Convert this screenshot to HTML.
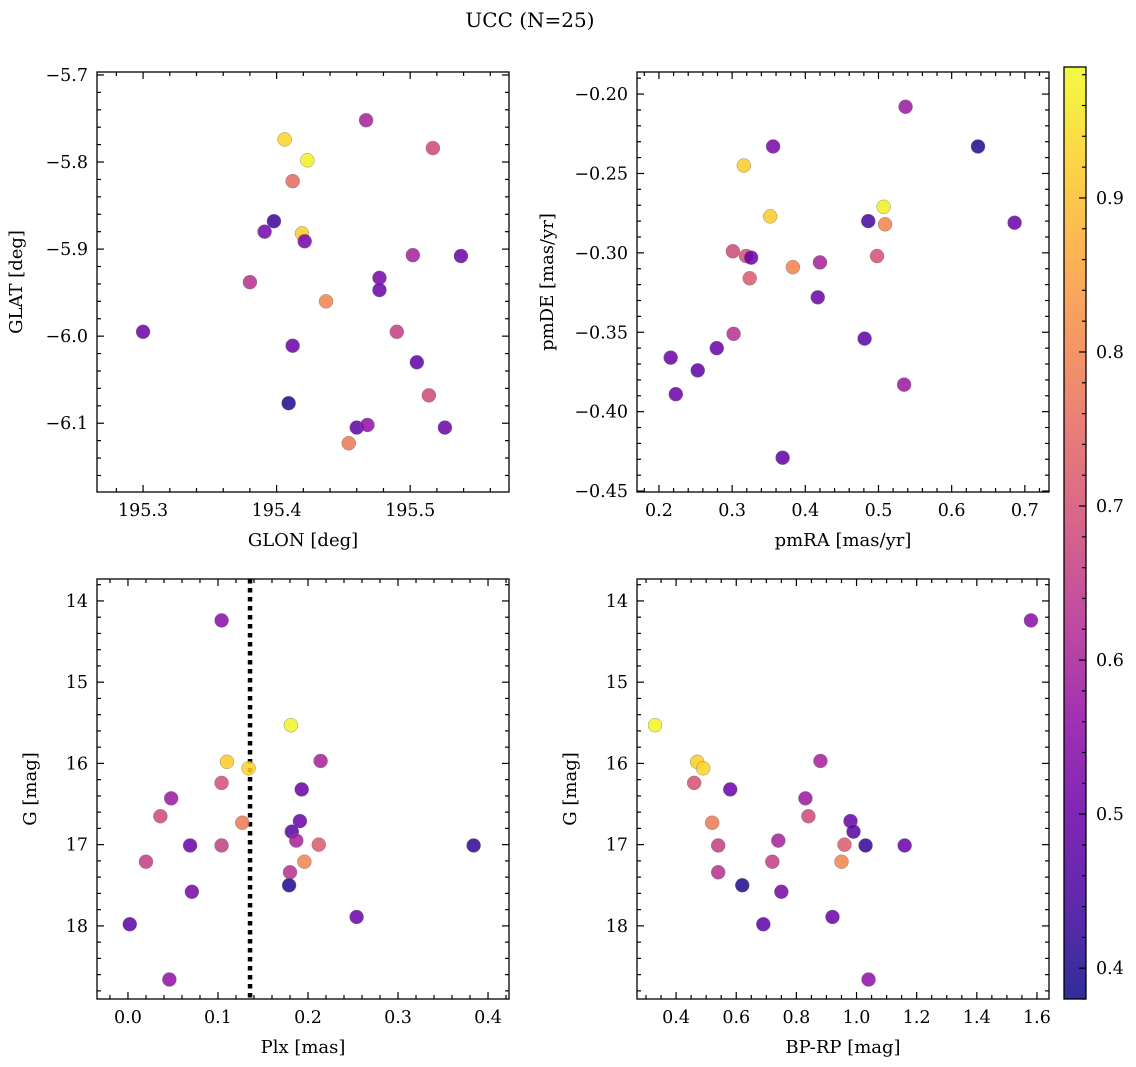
<!DOCTYPE html>
<html><head><meta charset="utf-8"><style>
body{margin:0;background:#fff;}
svg{display:block;font-family:"DejaVu Serif","Liberation Serif",serif;}
</style></head><body>
<svg id="fig" width="1136" height="1067" viewBox="0 0 1136 1067" xmlns="http://www.w3.org/2000/svg">
<defs><linearGradient id="plasma" x1="0" y1="1" x2="0" y2="0"></linearGradient></defs>
<text x="530" y="27" font-size="20" text-anchor="middle">UCC (N=25)</text>
</svg>
<script>
// ---- Panel 1: GLON / GLAT ----
const glon = [195.300,195.406,195.423,195.412,195.467,195.517,195.398,195.391,195.419,195.421,195.380,195.502,195.538,195.477,195.477,195.437,195.490,195.412,195.505,195.514,195.409,195.460,195.468,195.526,195.454];
const glat = [-5.995,-5.774,-5.798,-5.822,-5.752,-5.784,-5.868,-5.880,-5.882,-5.891,-5.938,-5.907,-5.908,-5.933,-5.947,-5.960,-5.995,-6.011,-6.030,-6.068,-6.077,-6.105,-6.102,-6.105,-6.123];
const probA = [0.50,0.93,0.97,0.75,0.60,0.68,0.43,0.52,0.92,0.52,0.63,0.60,0.50,0.52,0.50,0.80,0.66,0.50,0.48,0.68,0.40,0.48,0.56,0.50,0.78];
// ---- Panel 2: pmRA / pmDE ----
const pmra = [0.537,0.356,0.636,0.316,0.352,0.507,0.486,0.686,0.509,0.301,0.319,0.326,0.498,0.420,0.383,0.324,0.417,0.302,0.481,0.279,0.216,0.253,0.223,0.535,0.369];
const pmde = [-0.208,-0.233,-0.233,-0.245,-0.277,-0.271,-0.280,-0.281,-0.282,-0.299,-0.302,-0.303,-0.302,-0.306,-0.309,-0.316,-0.328,-0.351,-0.354,-0.360,-0.366,-0.374,-0.389,-0.383,-0.429];
const probB = [0.58,0.52,0.40,0.92,0.92,0.97,0.45,0.50,0.80,0.68,0.70,0.50,0.70,0.60,0.80,0.72,0.50,0.63,0.48,0.50,0.50,0.48,0.50,0.58,0.48];
// ---- Panels 3 & 4: shared stars ----
const gmag = [14.24,15.53,15.98,16.06,15.97,16.24,16.32,16.43,16.73,16.71,16.65,16.84,17.01,16.95,17.01,17.01,17.00,17.21,17.21,17.34,17.58,17.50,17.89,17.98,18.66];
const plx  = [0.104,0.181,0.110,0.134,0.214,0.104,0.193,0.048,0.127,0.191,0.036,0.182,0.104,0.187,0.384,0.069,0.212,0.020,0.196,0.180,0.071,0.179,0.254,0.002,0.046];
const bprp = [1.58,0.33,0.47,0.49,0.88,0.46,0.58,0.83,0.52,0.98,0.84,0.99,0.54,0.74,1.03,1.16,0.96,0.72,0.95,0.54,0.75,0.62,0.92,0.69,1.04];
const probC = [0.55,0.98,0.92,0.93,0.60,0.70,0.50,0.58,0.78,0.50,0.68,0.47,0.66,0.60,0.42,0.50,0.72,0.66,0.80,0.63,0.52,0.40,0.50,0.48,0.56];
const plxLine = [0.1356];
const cbTicks = [0.4,0.5,0.6,0.7,0.8,0.9];

const NS="http://www.w3.org/2000/svg";
const svg=document.getElementById('fig');
function mk(tag,attrs,parent){const e=document.createElementNS(NS,tag);for(const k in attrs)e.setAttribute(k,attrs[k]);(parent||svg).appendChild(e);return e;}
const VMIN=0.38,VMAX=0.985;
const stops=[[13,8,135],[65,4,157],[106,0,168],[143,13,164],[177,42,144],[204,71,120],[225,100,98],[242,132,75],[252,166,54],[252,206,37],[240,249,33]];
function plasma(v){let t=Math.max(0,Math.min(1,(v-VMIN)/(VMAX-VMIN)))*10;const i=Math.min(9,Math.floor(t));const f=t-i;const a=stops[i],b=stops[i+1];return `rgb(${Math.round(a[0]+(b[0]-a[0])*f)},${Math.round(a[1]+(b[1]-a[1])*f)},${Math.round(a[2]+(b[2]-a[2])*f)})`;}
function fmt(v,d){const s=Math.abs(v).toFixed(d);return (v<-1e-9?'\u2212':'')+s;}
const TF=17.5;

function panel(o){
  const {x0,x1,y0,y1,px,py,pw,ph}=o;
  const X=v=>px+(v-x0)/(x1-x0)*pw, Y=v=>py+(v-y0)/(y1-y0)*ph;
  const g=mk('g',{});
  
  
  const tick=(v,maj,axis)=>{const L=maj?7:4;
    if(axis==='x'){const x=X(v);if(x<px-0.5||x>px+pw+0.5)return;
      mk('line',{x1:x,x2:x,y1:py+ph,y2:py+ph-L,stroke:'#000','stroke-width':1.2},g);
      mk('line',{x1:x,x2:x,y1:py,y2:py+L,stroke:'#000','stroke-width':1.2},g);}
    else{const y=Y(v);if(y<py-0.5||y>py+ph+0.5)return;
      mk('line',{x1:px,x2:px+L,y1:y,y2:y,stroke:'#000','stroke-width':1.2},g);
      mk('line',{x1:px+pw,x2:px+pw-L,y1:y,y2:y,stroke:'#000','stroke-width':1.2},g);}};
  const lo=Math.min(x0,x1),hi=Math.max(x0,x1);
  for(let k=Math.ceil(lo/o.xmin-1e-6);k*o.xmin<=hi+1e-9;k++){const v=k*o.xmin;const maj=Math.abs(v/o.xmaj-Math.round(v/o.xmaj))<1e-6;tick(v,maj,'x');
    if(maj){const t=mk('text',{x:X(v),y:py+ph+24,'font-size':TF,'text-anchor':'middle'},g);t.textContent=fmt(v,o.xd);}}
  const ylo=Math.min(y0,y1),yhi=Math.max(y0,y1);
  for(let k=Math.ceil(ylo/o.ymin-1e-6);k*o.ymin<=yhi+1e-9;k++){const v=k*o.ymin;const maj=Math.abs(v/o.ymaj-Math.round(v/o.ymaj))<1e-6;tick(v,maj,'y');
    if(maj){const t=mk('text',{x:px-9,y:Y(v)+6,'font-size':TF,'text-anchor':'end'},g);t.textContent=fmt(v,o.yd);}}
  if(o.vline){o.vline.forEach(v=>{const l=mk('line',{x1:X(v),x2:X(v),y1:py,y2:py+ph,stroke:'#000','stroke-width':4.5,'stroke-dasharray':'4.5,4.5'},g);});}
  o.xs.forEach((v,i)=>{const c=mk('circle',{cx:X(v),cy:Y(o.ys[i]),r:7,fill:plasma(o.cs[i]),'fill-opacity':0.85,stroke:'#777','stroke-width':0.4},g);
    
    });
  const fr=mk('rect',{x:px,y:py,width:pw,height:ph,fill:'none',stroke:'#000','stroke-width':1.3},g);
  
  const xl=mk('text',{x:px+pw/2,y:py+ph+54,'font-size':18,'text-anchor':'middle'},g);xl.textContent=o.xl;
  
  const ylx=px-o.ylo;const yl=mk('text',{x:ylx,y:py+ph/2,'font-size':18,'text-anchor':'middle',transform:`rotate(-90 ${ylx} ${py+ph/2})`},g);yl.textContent=o.yl;
  
}
panel({name:'glon-glat-panel',px:97,py:72,pw:412,ph:420,x0:195.2655,x1:195.574,y0:-5.6966,y1:-6.179,xmaj:0.1,xmin:0.02,ymaj:0.1,ymin:0.02,xd:1,yd:1,xs:glon,ys:glat,cs:probA,xl:'GLON [deg]',yl:'GLAT [deg]',ylo:75});
panel({name:'pm-panel',px:637,py:72,pw:412,ph:420,x0:0.17,x1:0.733,y0:-0.1861,y1:-0.4506,xmaj:0.1,xmin:0.02,ymaj:0.05,ymin:0.01,xd:1,yd:2,xs:pmra,ys:pmde,cs:probB,xl:'pmRA [mas/yr]',yl:'pmDE [mas/yr]',ylo:84});
panel({name:'plx-g-panel',px:97,py:579,pw:412,ph:420,x0:-0.0344,x1:0.4233,y0:13.73,y1:18.9,xmaj:0.1,xmin:0.02,ymaj:1,ymin:0.2,xd:1,yd:0,xs:plx,ys:gmag,cs:probC,xl:'Plx [mas]',yl:'G [mag]',ylo:61,vline:plxLine});
panel({name:'cmd-panel',px:637,py:579,pw:412,ph:420,x0:0.27,x1:1.64,y0:13.73,y1:18.9,xmaj:0.2,xmin:0.05,ymaj:1,ymin:0.2,xd:1,yd:0,xs:bprp,ys:gmag,cs:probC,xl:'BP-RP [mag]',yl:'G [mag]',ylo:61});

const grad=document.getElementById('plasma');
for(let i=0;i<=20;i++){const v=VMIN+(VMAX-VMIN)*i/20;mk('stop',{offset:(i/20),'stop-color':plasma(v),'stop-opacity':0.85},grad);}
const cb=mk('g',{});
const cx=1064,cw=22,cy=67,ch=932;const CY=v=>cy+(VMAX-v)/(VMAX-VMIN)*ch;
mk('rect',{x:cx,y:cy,width:cw,height:ch,fill:'url(#plasma)'},cb);
for(let k=Math.ceil(VMIN/0.02);k*0.02<=VMAX;k++){const v=k*0.02;const maj=Math.abs(v*10-Math.round(v*10))<1e-6;
  mk('line',{x1:cx+cw,x2:cx+cw-(maj?7:4),y1:CY(v),y2:CY(v),stroke:'#000','stroke-width':1.2},cb);}
cbTicks.forEach(v=>{const t=mk('text',{x:cx+cw+10,y:CY(v)+6,'font-size':TF},cb);t.textContent=v.toFixed(1);
  });
mk('rect',{x:cx,y:cy,width:cw,height:ch,fill:'none',stroke:'#000','stroke-width':1.3},cb);
</script>
</body></html>
